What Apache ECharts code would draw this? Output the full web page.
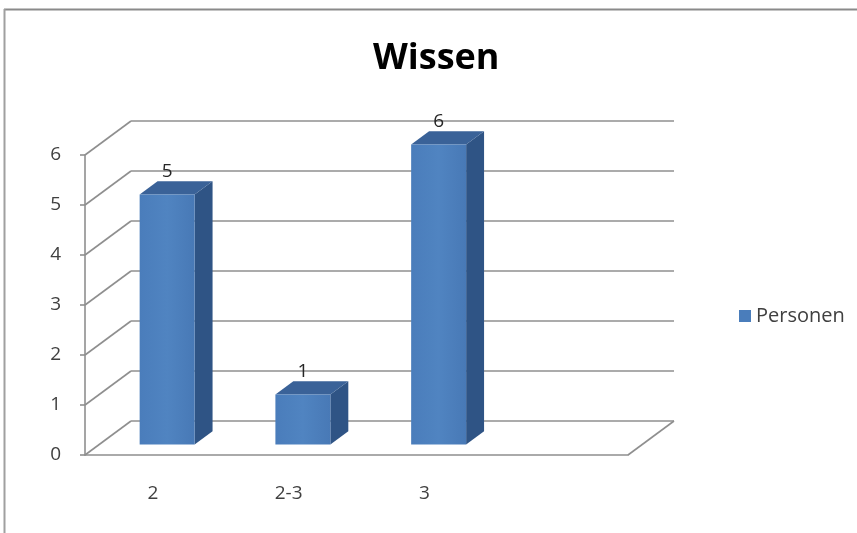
<!DOCTYPE html>
<html>
<head>
<meta charset="utf-8">
<script src="https://cdn.jsdelivr.net/npm/echarts@6/dist/echarts.min.js"></script>
<style>
  html, body { margin: 0; padding: 0; background: #fff; }
  #chart { width: 857px; height: 533px; }
</style>
</head>
<body>
<div id="chart"></div>
<script>
// data
const categories = ['2', '2-3', '3', '']
const personen = [5, 1, 6]
const yTicks = [0, 1, 2, 3, 4, 5, 6]

// pseudo 3d depth of the plot box (px)
const DX = 46
const DY = -34
const FRONT = 0.31
const DEPTH = 0.39
const gridColor = '#8f8f8f'
const font = 'Open Sans'

const chart = echarts.init(document.getElementById('chart'))

const renderWall = (params, api) => {
  const cs = params.coordSys
  const v = api.value(1)
  const y = api.coord([0, v])[1]
  const style = { stroke: gridColor, lineWidth: 1.6, fill: null }
  const children = [
    { type: 'line', shape: { x1: cs.x + DX, y1: y + DY, x2: cs.x + cs.width + DX, y2: y + DY }, style },
    { type: 'line', shape: { x1: cs.x, y1: y, x2: cs.x + DX, y2: y + DY }, style }
  ]
  if (v === 0) {
    children.push({ type: 'line', shape: { x1: cs.x + cs.width, y1: y, x2: cs.x + cs.width + DX, y2: y + DY }, style })
  }
  return { type: 'group', children }
}

const renderBar = (params, api) => {
  const idx = api.value(0)
  const val = api.value(1)
  const top = api.coord([idx, val])
  const base = api.coord([idx, 0])
  const w = api.size([1, 0])[0] * 0.405
  const xL = top[0] - w / 2 + FRONT * DX
  const xR = xL + w
  const yb = base[1] + FRONT * DY
  const yt = top[1] + FRONT * DY
  const ddx = DEPTH * DX
  const ddy = DEPTH * DY
  return {
    type: 'group',
    children: [
      {
        type: 'polygon',
        shape: { points: [[xR, yb], [xR + ddx, yb + ddy], [xR + ddx, yt + ddy], [xR, yt]] },
        style: { fill: '#2f5485' }
      },
      {
        type: 'polygon',
        shape: { points: [[xL, yt], [xR, yt], [xR + ddx, yt + ddy], [xL + ddx, yt + ddy]] },
        style: { fill: '#3a6298' }
      },
      {
        type: 'rect',
        shape: { x: xL, y: yt, width: w, height: yb - yt },
        style: {
          fill: new echarts.graphic.LinearGradient(0, 0, 1, 0, [
            { offset: 0, color: '#4a7dbb' },
            { offset: 0.5, color: '#5084c1' },
            { offset: 1, color: '#4879b6' }
          ])
        }
      },
      {
        type: 'text',
        x: xL + w / 2,
        y: yt + ddy - 10,
        style: {
          text: String(val),
          align: 'center',
          verticalAlign: 'middle',
          fontFamily: font,
          fontSize: 19,
          fill: '#262626'
        }
      }
    ]
  }
}

const option = {
  backgroundColor: '#fff',
  animation: false,
  title: {
    text: 'Wissen',
    left: 368,
    top: 36,
    textStyle: { fontFamily: font, fontSize: 36, fontWeight: 'bold', color: '#000' }
  },
  legend: {
    data: ['Personen'],
    left: 734,
    top: 301,
    icon: 'rect',
    itemWidth: 12,
    itemHeight: 12,
    itemGap: 6,
    textStyle: { fontFamily: font, fontSize: 20, color: '#404040' }
  },
  grid: { left: 85, right: 229, top: 155, bottom: 78 },
  xAxis: {
    type: 'category',
    data: categories,
    axisLine: { lineStyle: { color: gridColor, width: 1.6 } },
    axisTick: { length: 6, lineStyle: { color: gridColor, width: 1.6 } },
    axisLabel: { margin: 29, fontFamily: font, fontSize: 19, color: '#404040' },
    splitLine: { show: false }
  },
  yAxis: {
    type: 'value',
    min: 0,
    max: 6,
    interval: 1,
    axisLine: { show: true, lineStyle: { color: gridColor, width: 1.6 } },
    axisTick: { show: true, length: 5, lineStyle: { color: gridColor, width: 1.6 } },
    axisLabel: { margin: 24, padding: [4, 0, 0, 0], fontFamily: font, fontSize: 19, color: '#404040' },
    splitLine: { show: false }
  },
  graphic: [
    { type: 'line', shape: { x1: 4, y1: 9.5, x2: 857, y2: 9.5 }, style: { stroke: '#8a8a8a', lineWidth: 2 } },
    { type: 'line', shape: { x1: 4.5, y1: 9, x2: 4.5, y2: 533 }, style: { stroke: '#a0a0a0', lineWidth: 2 } }
  ],
  series: [
    {
      name: 'walls',
      type: 'custom',
      renderItem: renderWall,
      data: yTicks.map(v => [0, v]),
      z: 1,
      silent: true
    },
    {
      name: 'Personen',
      type: 'custom',
      renderItem: renderBar,
      data: personen.map((v, i) => [i, v]),
      itemStyle: { color: '#4a7dbb' },
      z: 3
    }
  ]
}

chart.setOption(option)
</script>
</body>
</html>
